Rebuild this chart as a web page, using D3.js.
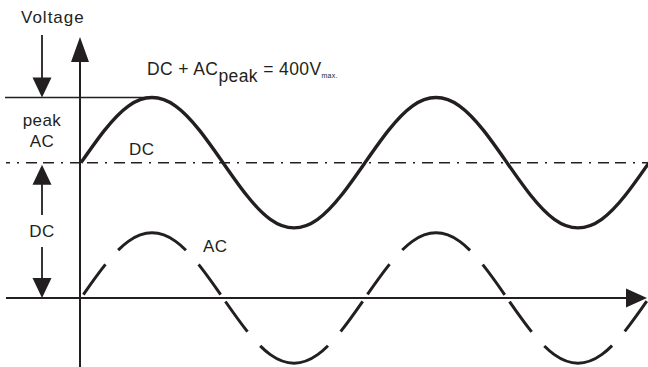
<!DOCTYPE html>
<html>
<head>
<meta charset="utf-8">
<script src="https://cdn.jsdelivr.net/npm/d3@7"></script>
<style>
  body { margin: 0; background: #fff; }
  text { font-family: "Liberation Sans", Arial, sans-serif; fill: #231f20; letter-spacing: 0.4px; }
</style>
</head>
<body>
<div id="chart"></div>
<script>
// DC + AC voltage diagram

var width = 648;
var height = 367;
var ink = "#231f20";

// phase angle of each sample, degrees
var phaseDeg = [0, 30, 60, 90, 120, 150, 180, 210, 240, 270, 300, 330,
                360, 390, 420, 450, 480, 510, 540, 570, 600, 630, 660, 690, 720];

// DC + AC total voltage, volts
var totalVolts = [270, 335, 383, 400, 383, 335, 270, 205, 157, 140, 157, 205,
                  270, 335, 383, 400, 383, 335, 270, 205, 157, 140, 157, 205, 270];

// AC component alone, volts
var acVolts = [0, 65, 113, 130, 113, 65, 0, -65, -113, -130, -113, -65,
               0, 65, 113, 130, 113, 65, 0, -65, -113, -130, -113, -65, 0];

var dcVolts = 270;
var peakVolts = 400;

// where the dashes of the AC curve sit, degrees
var acDashes = [[3, 31], [47, 133], [149, 177], [183, 211], [227, 313], [329, 357],
                [363, 391], [407, 493], [509, 537], [543, 571], [587, 673], [689, 717]];

var x = d3.scaleLinear().domain([0, 360]).range([81, 365]);
var y = d3.scaleLinear().domain([0, 400]).range([298, 97.5]);

var svg = d3.select("#chart").append("svg")
    .attr("width", width)
    .attr("height", height);

var line = d3.line()
    .x(function(d) { return x(d[0]); })
    .y(function(d) { return y(d[1]); })
    .curve(d3.curveNatural);

function arrowHead(tipX, tipY, dir, len, half) {
  // dir: "up", "down", "right"
  var p;
  if (dir == "up") p = [[tipX, tipY], [tipX - half, tipY + len], [tipX + half, tipY + len]];
  else if (dir == "down") p = [[tipX, tipY], [tipX - half, tipY - len], [tipX + half, tipY - len]];
  else p = [[tipX, tipY], [tipX - len, tipY - half], [tipX - len, tipY + half]];
  svg.append("polygon")
     .attr("points", p.map(function(d) { return d.join(","); }).join(" "))
     .attr("fill", ink);
}

function vline(xp, y1, y2, w) {
  svg.append("line").attr("x1", xp).attr("x2", xp).attr("y1", y1).attr("y2", y2)
     .attr("stroke", ink).attr("stroke-width", w);
}

function hline(yp, x1, x2, w) {
  return svg.append("line").attr("x1", x1).attr("x2", x2).attr("y1", yp).attr("y2", yp)
     .attr("stroke", ink).attr("stroke-width", w);
}

// peak level line
hline(y(peakVolts), 5, x(90), 1.6);

// DC level, dash-dot
hline(y(dcVolts), 6, width, 1.5)
  .attr("stroke-dasharray", "2,7,11,6,11,7")
  .attr("stroke-dashoffset", 33);

// axes
vline(x(0) - 1, 60, height, 2);
arrowHead(x(0) - 1, 37, "up", 25, 9);
hline(y(0), 6, 630, 2);
arrowHead(647, y(0), "right", 21, 9.5);

// total voltage curve
svg.append("path")
   .datum(phaseDeg.map(function(p, i) { return [p, totalVolts[i]]; }))
   .attr("d", line)
   .attr("fill", "none")
   .attr("stroke", ink)
   .attr("stroke-width", 3.4);

// AC curve, dashes placed by phase
var acPath = svg.append("path")
   .datum(phaseDeg.map(function(p, i) { return [p, acVolts[i]]; }))
   .attr("d", line)
   .attr("fill", "none")
   .attr("stroke", ink)
   .attr("stroke-width", 3);

var node = acPath.node();
var total = node.getTotalLength();

function lengthAt(deg) {
  var target = x(deg);
  var lo = 0, hi = total;
  for (var k = 0; k < 40; k++) {
    var mid = (lo + hi) / 2;
    if (node.getPointAtLength(mid).x < target) lo = mid; else hi = mid;
  }
  return (lo + hi) / 2;
}

var dash = [0];
var prev = 0;
acDashes.forEach(function(d) {
  var a = lengthAt(d[0]), b = lengthAt(d[1]);
  dash.push(a - prev, b - a);
  prev = b;
});
dash.push(total + 100);
acPath.attr("stroke-dasharray", dash.join(","));

// left annotations
var ax = 42;
svg.append("text").attr("x", 21).attr("y", 23).style("font-size", "17px")
   .style("letter-spacing", "1px").text("Voltage");
vline(ax, 35, 80, 1.8);
arrowHead(ax, y(peakVolts), "down", 20, 9.5);

svg.append("text").attr("x", ax).attr("y", 126).attr("text-anchor", "middle")
   .style("font-size", "17px").text("peak");
svg.append("text").attr("x", ax).attr("y", 147).attr("text-anchor", "middle")
   .style("font-size", "17px").text("AC");

arrowHead(ax, y(dcVolts) + 2, "up", 20, 9.5);
vline(ax, y(dcVolts) + 20, 215, 1.8);
svg.append("text").attr("x", ax).attr("y", 237).attr("text-anchor", "middle")
   .style("font-size", "17px").text("DC");
vline(ax, 247, 280, 1.8);
arrowHead(ax, y(0), "down", 20, 9.5);

// curve labels
svg.append("text").attr("x", 129).attr("y", 155).style("font-size", "17px").text("DC");
svg.append("text").attr("x", 203).attr("y", 252).style("font-size", "17px").text("AC");

// formula
var f = svg.append("text").attr("x", 147).attr("y", 75).style("font-size", "17.5px");
f.append("tspan").text("DC + AC");
f.append("tspan").attr("dy", 7).text("peak");
f.append("tspan").attr("dy", -7).text(" = 400V");
f.append("tspan").attr("dy", 3).style("font-size", "7px").style("letter-spacing", "0.2px").text("max.");
</script>
</body>
</html>
